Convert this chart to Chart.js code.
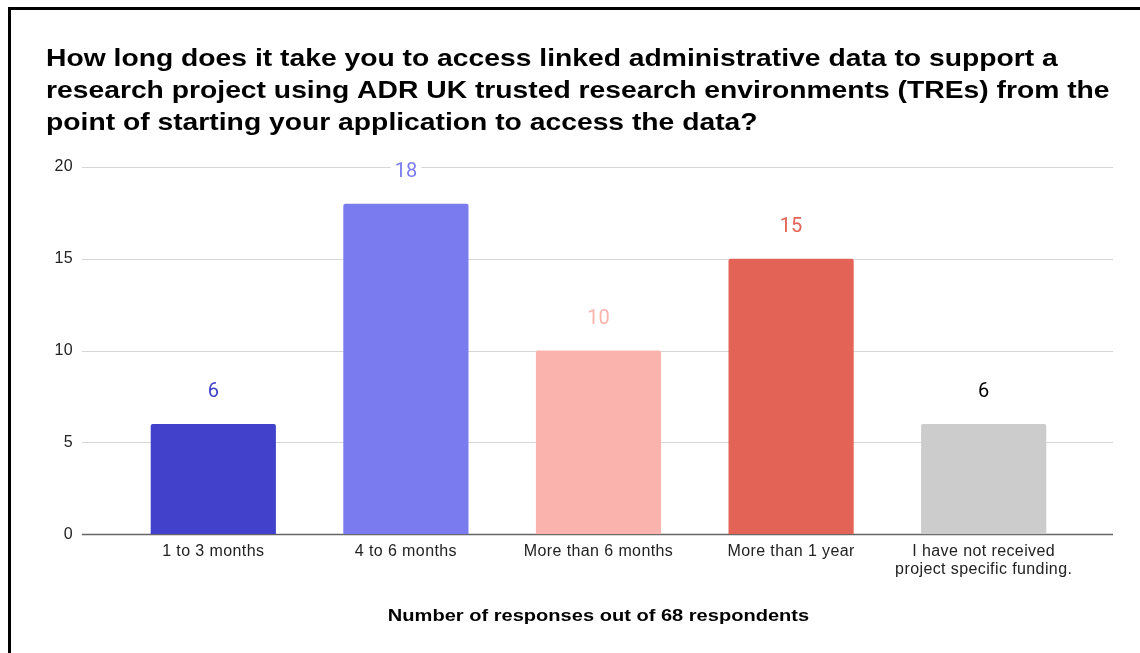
<!DOCTYPE html>
<html>
<head>
<meta charset="utf-8">
<script src="https://cdn.jsdelivr.net/npm/chart.js@4.4.1/dist/chart.umd.min.js"></script>
<style>
  html, body { margin: 0; padding: 0; background: #fff; }
  #frame {
    position: absolute; left: 8px; top: 7px;
    width: 1129px; height: 643px;
    border-left: 3px solid #000; border-top: 3px solid #000;
  }
  #chartBox { position: relative; width: 1129px; height: 643px; }
</style>
</head>
<body>
<div id="frame"><div id="chartBox"><canvas id="tresChart"></canvas></div></div>
<script>
const categories = ['1 to 3 months', '4 to 6 months', 'More than 6 months', 'More than 1 year', ['I have not received', 'project specific funding.']];
const responses = [6, 18, 10, 15, 6];
const barColors = ['#4141cc', '#7b7bf0', '#fbb4ad', '#e36456', '#cccccc'];
const labelColors = ['#4141cc', '#7b7bf0', '#fbb4ad', '#e36456', '#000000'];
const yTicks = [0, 5, 10, 15, 20];

const titleLines = [
    'How long does it take you to access linked administrative data to support a',
    'research project using ADR UK trusted research environments (TREs) from the',
    'point of starting your application to access the data?'
];
const axisTitle = 'Number of responses out of 68 respondents';

// text drawn a little wider than the font's natural width
function wideText(ctx, text, x, y, stretch) {
    ctx.save();
    ctx.translate(x, y);
    ctx.scale(stretch, 1);
    ctx.fillText(text, 0, 0);
    ctx.restore();
}

// headings: chart title on top, axis caption under the category labels
const headings = {
    id: 'headings',
    beforeDraw(chart) {
        const { ctx, chartArea } = chart;
        ctx.save();
        ctx.fillStyle = '#000000';
        ctx.textBaseline = 'alphabetic';
        ctx.textAlign = 'left';
        ctx.font = 'bold 24px "Liberation Sans"';
        titleLines.forEach((line, i) => wideText(ctx, line, 35, 56 + i * 32, 1.178));
        ctx.font = 'bold 17px "Liberation Sans"';
        ctx.textAlign = 'center';
        wideText(ctx, axisTitle, (chartArea.left + chartArea.right) / 2, 611, 1.18);
        ctx.restore();
        // slightly spaced tick labels
        ctx.letterSpacing = '0.4px';
    },
    beforeDatasetsDraw(chart) {
        chart.ctx.letterSpacing = '0px';
    }
};

// horizontal gridlines that run a little past the bars on both sides
const wideGrid = {
    id: 'wideGrid',
    beforeDatasetsDraw(chart) {
        const { ctx, chartArea, scales } = chart;
        ctx.save();
        yTicks.forEach(v => {
            const y = Math.round(scales.y.getPixelForValue(v)) + 0.5;
            ctx.beginPath();
            ctx.moveTo(chartArea.left - 35, y);
            ctx.lineTo(chartArea.right + 33, y);
            ctx.lineWidth = v === 0 ? 1.5 : 1;
            ctx.strokeStyle = v === 0 ? '#666666' : '#d6d6d6';
            ctx.stroke();
        });
        ctx.restore();
    }
};

// value labels above each bar, on a white patch over the gridlines
const valueLabels = {
    id: 'valueLabels',
    afterDatasetsDraw(chart) {
        const { ctx } = chart;
        const meta = chart.getDatasetMeta(0);
        ctx.save();
        ctx.font = '20px Roboto';
        ctx.textAlign = 'center';
        ctx.textBaseline = 'middle';
        meta.data.forEach((bar, i) => {
            const txt = String(responses[i]);
            const y = bar.y - 33;
            const w = ctx.measureText(txt).width + 8;
            ctx.fillStyle = '#ffffff';
            ctx.fillRect(bar.x - w / 2, y - 10, w, 20);
            ctx.fillStyle = labelColors[i];
            ctx.fillText(txt, bar.x, y + 1);
        });
        ctx.restore();
    }
};

const ctx = document.getElementById('tresChart').getContext('2d');
const tresChart = new Chart(ctx, {
    type: 'bar',
    data: {
        labels: categories,
        datasets: [{
            data: responses,
            backgroundColor: barColors,
            borderRadius: 2,
            borderSkipped: 'bottom',
            barPercentage: 0.65,
            categoryPercentage: 1
        }]
    },
    options: {
        responsive: true,
        maintainAspectRatio: false,
        animation: false,
        layout: { padding: { left: 38, right: 60, top: 157, bottom: 66 } },
        plugins: {
            legend: { display: false },
            tooltip: { enabled: false },
            title: { display: false }
        },
        scales: {
            x: {
                grid: { display: false, drawTicks: false },
                border: { display: false },
                ticks: {
                    color: '#222222',
                    font: { family: 'Liberation Sans', size: 16, lineHeight: 1.15 },
                    padding: 8,
                    maxRotation: 0,
                    autoSkip: false
                }
            },
            y: {
                min: 0,
                max: 20,
                afterBuildTicks(scale) {
                    scale.ticks = yTicks.map(v => ({ value: v }));
                },
                afterFit(scale) {
                    scale.width = 68;
                },
                grid: { display: false, drawTicks: false },
                border: { display: false },
                ticks: {
                    color: '#222222',
                    font: { family: 'Liberation Sans', size: 16 },
                    padding: 44
                }
            }
        }
    },
    plugins: [headings, wideGrid, valueLabels]
});
</script>
</body>
</html>
